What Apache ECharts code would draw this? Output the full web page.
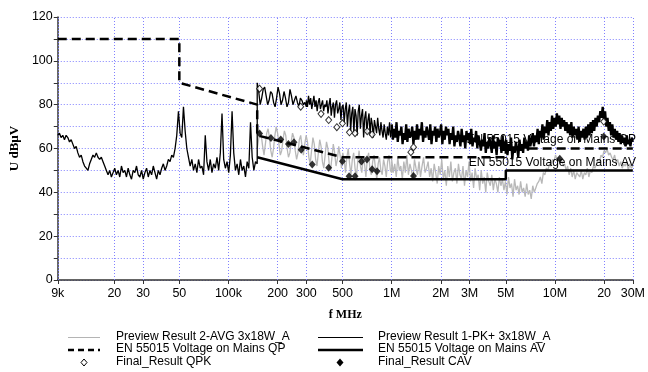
<!DOCTYPE html>
<html><head><meta charset="utf-8">
<script src="https://cdn.jsdelivr.net/npm/echarts@6/dist/echarts.min.js"></script>
<style>html,body{margin:0;padding:0;background:#fff}#c{width:648px;height:372px}</style>
</head><body><div id="c"></div>
<script>
// ---- tick labels (x axis, frequency in Hz) ----
const xTickFreqs = [9e3,2e4,3e4,5e4,1e5,2e5,3e5,5e5,1e6,2e6,3e6,5e6,1e7,2e7,3e7];
const xTickLabels = ['9k','20','30','50','100k','200','300','500','1M','2M','3M','5M','10M','20','30M'];

// ---- Preview Result 1-PK+ (black) : sweep segments [start Hz, end Hz] + read values dBuV ----
const pkRangeA = [9e3, 150e3];
const pkA = [66,67,65,66,64,66,65,63,64,
  62,60,61,58,56,57,54,52,51,
  50,53,55,57,56,58,56,55,56,
  54,52,50,48,50,47,
  49,51,48,50,47,52,49,50,47,51,48,46,50,49,52,48,47,50,46,49,51,47,50,48,52,49,46,50,48,51,53,50,52,55,54,57,56,60,
  66,77,67,65,79,68,
  60,56,52,55,50,53,49,55,51,
  52,48,66,54,50,55,49,53,51,56,50,58,76,55,51,54,49,57,77,58,50,53,48,55,50,52,47,54,51,72,56,50,54,53];
const pkRangeB1 = [150e3, 300e3];
const pkB1 = [90,86,80,83,87,88,84,80,82,86,85,81,79,83,88,85,80,82,86,83,79,81,87,84,80,82,84,81,79,83,82,80,81,79];
const pkRangeB2 = [300e3, 1e6];
const pkB2 = [82,79,84,80,83,78,81,84,79,82,77,81,83,78,80,82,77,80,
  79,82,76,80,83,75,79,81,74,80,82,76,78,81,73,79,
  80,72,78,81,70,77,80,68,76,79,67,78,75,66,77,80,69,75,78,65,74,77,67,73,
  76,66,74,71,65,73,70,67,74,69,66,72,68,65,71,67,64,70,66,72,65,69];
const pkRangeC = [1e6, 30e6];
const pkC = [71,64,69,65,72,63,68,66,70,62,67,64,71,63,69,65,66,70,62,68,64,
  71,64,69,66,72,63,68,65,70,67,64,71,62,68,66,70,63,69,65,67,71,62,68,64,70,66,
  69,62,67,64,70,61,66,63,68,65,61,69,63,66,60,68,64,67,62,69,61,65,63,68,60,66,
  66,59,64,61,67,58,63,60,65,62,58,66,60,63,57,65,61,64,58,66,59,62,
  64,57,62,59,65,55,61,58,63,60,56,64,59,62,58,65,60,63,59,66,61,64,
  67,61,66,63,69,62,68,65,71,64,70,67,73,66,72,68,75,69,74,70,76,71,
  75,69,74,70,73,68,72,67,71,66,72,65,70,66,69,64,70,63,68,65,69,
  64,70,65,71,66,72,67,73,68,74,70,75,72,77,74,79,
  73,77,70,74,68,72,66,71,65,69,64,68,63,67,62,66,63,65,61,66,62,64,61,65,63];

// ---- Preview Result 2-AVG (grey) ----
const avgRange1 = [150e3, 1e6];
const avg1 = [60,64,68,66,61,57,62,67,69,65,59,56,60,66,70,67,62,57,59,64,68,66,60,56,58,63,67,65,59,55,58,64,66,61,
  57,62,66,63,56,53,59,65,62,55,52,58,64,61,54,51,57,63,60,53,50,56,62,58,52,55,61,57,
  51,58,55,49,56,60,53,48,55,58,51,47,54,59,52,49,56,53,47,55,58,50,48,54,57,51,46,53,56,50,48,55,52,47,54,57,50,49];
const avgRange2 = [1e6, 30e6];
const avg2 = [55,49,53,47,56,50,52,46,54,49,57,48,53,50,46,55,51,48,54,47,52,56,49,51,
  54,47,51,45,53,49,44,52,48,55,46,50,43,52,47,54,45,49,51,44,53,48,46,52,43,50,47,54,45,49,42,51,46,48,41,50,44,47,40,49,45,43,48,41,46,44,40,47,43,
  46,41,45,39,47,42,44,38,46,41,43,39,45,40,42,38,44,39,41,37,43,40,42,44,
  45,47,44,49,48,51,50,53,52,55,54,57,55,56,53,55,52,
  53,50,52,48,51,47,50,46,49,48,47,50,46,49,48,51,47,50,49,52,51,
  53,55,54,57,56,59,58,60,57,58,
  56,55,57,53,55,52,54,51,53,52,54,50,53,51,52];

// ---- limits EN 55015 ----
const qpFreq = [9e3,50e3,50e3,150e3,150e3,500e3,5e6,5e6,30e6];
const qpVal  = [110,110,90,80,66,56,56,60,60];
const avFreq = [150e3,500e3,5e6,5e6,30e6];
const avVal  = [56,46,46,50,50];

// ---- final results ----
const qpkFreq = [155e3,277e3,369e3,411e3,461e3,499e3,551e3,596e3,708e3,759e3,1.31e6,1.36e6,19.9e6];
const qpkVal  = [87.3,79.1,75.8,73,69.7,71.5,67.4,67,67.9,66.4,58.3,60.6,72.3];
const cavFreq = [155e3,182e3,209e3,233e3,252e3,279e3,326e3,411e3,499e3,548e3,596e3,653e3,705e3,759e3,813e3,1.36e6,10.7e6,19.9e6];
const cavVal  = [66.8,64.8,64.1,62.1,62.9,59.4,52.7,51.2,54.2,47.3,47.3,54.1,55,50.5,49.6,47.5,55.3,65.5];

// ---- helpers ----
const L = Math.log10;
function sweep(range, vals){
  const a = L(range[0]), b = L(range[1]), n = vals.length;
  return vals.map((v,i)=>[a + (b-a)*i/(n-1), v]);
}
function pairs(fs, vs){ return fs.map((f,i)=>[L(f), vs[i]]); }

const pkDataLow = [].concat(sweep(pkRangeA,pkA), sweep(pkRangeB1,pkB1), sweep(pkRangeB2,pkB2));
const pkDataHigh = sweep(pkRangeC,pkC);
const avgData = [].concat(sweep(avgRange1,avg1), sweep(avgRange2,avg2));
const xMin = L(9e3), xMax = L(3e7);
const xTicks = xTickFreqs.map(L);
function xFmt(v){
  for (let i=0;i<xTicks.length;i++) if (Math.abs(xTicks[i]-v)<1e-6) return xTickLabels[i];
  return '';
}
const GRID = '#8080ff';
const FONT = '"Liberation Sans", Arial, sans-serif';
const chart = echarts.init(document.getElementById('c'), null, {renderer:'canvas'});
const legY = [337.5, 350, 362.5];
const option = {
  animation: false,
  backgroundColor: '#fff',
  grid: {left:56, top:17, width:582, height:263, containLabel:false},
  xAxis: [{
    type:'value', min:xMin, max:xMax,
    axisLine:{show:true, lineStyle:{color:'#333', width:1.5}},
    axisTick:{show:true, customValues:xTicks, length:4, lineStyle:{color:'#333', width:1}},
    axisLabel:{customValues:xTicks, formatter:xFmt, margin:7, fontSize:12.5, color:'#000', fontFamily:FONT},
    splitLine:{show:false},
    name:'f MHz', nameLocation:'middle', nameGap:29,
    nameTextStyle:{fontFamily:'"Liberation Serif", serif', fontWeight:'bold', fontSize:12, color:'#000'}
  },{
    type:'value', min:xMin, max:xMax, position:'bottom', gridIndex:0,
    axisLine:{show:false}, axisLabel:{show:false}, splitLine:{show:false},
    axisTick:{show:true, inside:true, length:263, customValues:xTicks, lineStyle:{color:GRID, width:1, type:[1,2]}}
  }],
  yAxis: {
    type:'value', min:0, max:120, interval:10,
    axisLine:{show:true, lineStyle:{color:'#333', width:1.5}},
    axisTick:{show:true, length:4, lineStyle:{color:'#333'}},
    axisLabel:{formatter:v=> (v%20===0? String(v):''), margin:5, fontSize:12.5, color:'#000', fontFamily:FONT},
    splitLine:{show:true, lineStyle:{color:GRID, width:1, type:[1,2]}},
    name:'U dBµV', nameLocation:'middle', nameRotate:90, nameGap:34,
    nameTextStyle:{fontFamily:'"Liberation Serif", serif', fontWeight:'bold', fontSize:13, color:'#000'}
  },
  series: [
    {name:'avg', type:'line', data:avgData, symbol:'none', showSymbol:false, z:2,
     lineStyle:{color:'#b8b8b8', width:1.3}},
    {name:'qp', type:'line', data:pairs(qpFreq,qpVal), symbol:'none', z:3,
     lineStyle:{color:'#000', width:2.5, type:[9,5]}},
    {name:'av', type:'line', data:pairs(avFreq,avVal), symbol:'none', z:3,
     lineStyle:{color:'#000', width:2.5}},
    {name:'pk', type:'line', data:pkDataLow, symbol:'none', showSymbol:false, z:4,
     lineStyle:{color:'#000', width:1.3}},
    {name:'pk', type:'line', data:pkDataHigh, symbol:'none', showSymbol:false, z:4,
     lineStyle:{color:'#000', width:2.3}},
    {name:'qpk', type:'scatter', data:pairs(qpkFreq,qpkVal), symbol:'diamond', symbolSize:[6,7], z:5,
     itemStyle:{color:'#fff', borderColor:'#000', borderWidth:1}},
    {name:'cav', type:'scatter', data:pairs(cavFreq,cavVal), symbol:'diamond', symbolSize:[7,8], z:5,
     itemStyle:{color:'#000'}}
  ],
  graphic: [
    {type:'text', right:12, top:134, z:3.5, style:{text:'EN 55015 Voltage on Mains QP', font:'12px '+FONT, fill:'#000'}},
    {type:'text', right:12, top:157, z:6, style:{text:'EN 55015 Voltage on Mains AV', font:'12px '+FONT, fill:'#000'}},
    // legend
    {type:'line', shape:{x1:68,y1:legY[0],x2:100,y2:legY[0]}, style:{stroke:'#b4b4b4', lineWidth:1}},
    {type:'line', shape:{x1:68,y1:legY[1],x2:100,y2:legY[1]}, style:{stroke:'#000', lineWidth:2.5, lineDash:[6,4]}},
    {type:'polygon', shape:{points:[[84,legY[2]-3.5],[87,legY[2]],[84,legY[2]+3.5],[81,legY[2]]]}, style:{fill:'#fff', stroke:'#000', lineWidth:1}},
    {type:'text', left:116, top:legY[0]-7, style:{text:'Preview Result 2-AVG 3x18W_A', font:'12px '+FONT, fill:'#000'}},
    {type:'text', left:116, top:legY[1]-7, style:{text:'EN 55015 Voltage on Mains QP', font:'12px '+FONT, fill:'#000'}},
    {type:'text', left:116, top:legY[2]-7, style:{text:'Final_Result QPK', font:'12px '+FONT, fill:'#000'}},
    {type:'line', shape:{x1:318,y1:legY[0],x2:363,y2:legY[0]}, style:{stroke:'#000', lineWidth:1}},
    {type:'line', shape:{x1:318,y1:legY[1],x2:363,y2:legY[1]}, style:{stroke:'#000', lineWidth:2.5}},
    {type:'polygon', shape:{points:[[340,legY[2]-4],[343.5,legY[2]],[340,legY[2]+4],[336.5,legY[2]]]}, style:{fill:'#000'}},
    {type:'text', left:378, top:legY[0]-7, style:{text:'Preview Result 1-PK+ 3x18W_A', font:'12px '+FONT, fill:'#000'}},
    {type:'text', left:378, top:legY[1]-7, style:{text:'EN 55015 Voltage on Mains AV', font:'12px '+FONT, fill:'#000'}},
    {type:'text', left:378, top:legY[2]-7, style:{text:'Final_Result CAV', font:'12px '+FONT, fill:'#000'}}
  ]
};
chart.setOption(option);
</script>
</body></html>
